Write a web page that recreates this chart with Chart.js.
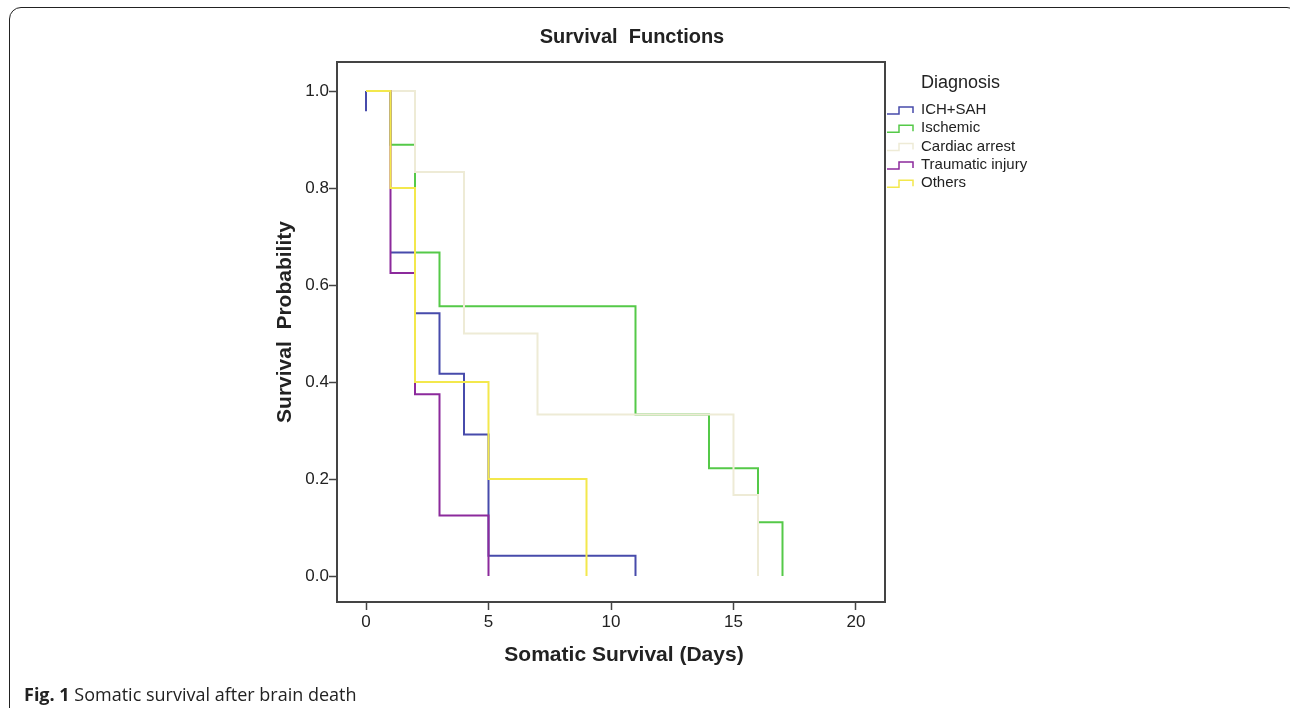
<!DOCTYPE html>
<html>
<head>
<meta charset="utf-8">
<script src="https://cdn.jsdelivr.net/npm/chart.js@4.4.1/dist/chart.umd.min.js"></script>
<style>
  html, body { margin: 0; padding: 0; background: #fff; overflow: hidden; }
  body { width: 1290px; height: 708px; position: relative; }
  #frame {
    position: absolute; left: 9px; top: 7px; width: 1290px; height: 740px;
    border: 1.5px solid #222; border-radius: 12px; box-sizing: border-box;
  }
  #chart { position: absolute; left: 0; top: 0; }
  #caption {
    position: absolute; left: 24px; top: 682px;
    font-family: 'Open Sans', sans-serif; font-size: 18px; color: #222;
    white-space: nowrap;
  }
  #caption b { font-weight: 700; }
</style>
</head>
<body>
<div id="frame"></div>
<canvas id="chart" width="1290" height="708"></canvas>
<div id="caption"><b>Fig. 1</b> Somatic survival after brain death</div>

<script>
// ----------------------------------------------------
// Data (Kaplan-Meier steps: time of event, survival after it)
// ----------------------------------------------------
const categories = ['ICH+SAH', 'Ischemic', 'Cardiac arrest', 'Traumatic injury', 'Others'];
const colors = ['#474bab', '#55c948', '#eeebd6', '#8c2a9c', '#f3e84c'];

// ICH+SAH: the null breaks the line, the plot shows no segment at 0.958 between day 0 and 1
const ichTimes = [0, 0, 0.5, 1, 2, 3, 4, 5, 11];
const ichSurv = [1.0, 0.958, null, 0.667, 0.542, 0.417, 0.292, 0.042, 0.0];

const ischTimes = [0, 1, 2, 3, 11, 14, 16, 17];
const ischSurv = [1.0, 0.889, 0.667, 0.556, 0.333, 0.222, 0.111, 0.0];

const cardTimes = [0, 2, 4, 7, 15, 16];
const cardSurv = [1.0, 0.833, 0.5, 0.333, 0.167, 0.0];

const traumaTimes = [0, 1, 2, 3, 5];
const traumaSurv = [1.0, 0.625, 0.375, 0.125, 0.0];

const otherTimes = [0, 1, 2, 5, 9];
const otherSurv = [1.0, 0.8, 0.4, 0.2, 0.0];

const xTicks = [0, 5, 10, 15, 20];
const yTicks = [0.0, 0.2, 0.4, 0.6, 0.8, 1.0];

const allTimes = [ichTimes, ischTimes, cardTimes, traumaTimes, otherTimes];
const allSurv = [ichSurv, ischSurv, cardSurv, traumaSurv, otherSurv];

const FONT = "'Liberation Sans', Arial, sans-serif";
const INK = '#222';

// ----------------------------------------------------
// Titles, frame and SPSS-style legend
// ----------------------------------------------------
const decorations = {
    id: 'decorations',
    afterDraw(chart) {
        const c = chart.ctx;
        const a = chart.chartArea;
        c.save();

        // plot frame
        c.strokeStyle = '#444';
        c.lineWidth = 2;
        c.strokeRect(a.left, a.top, a.right - a.left, a.bottom - a.top);

        c.fillStyle = INK;
        c.textAlign = 'center';
        c.textBaseline = 'middle';

        c.font = 'bold 20px ' + FONT;
        c.fillText('Survival  Functions', 632, 37);

        c.font = 'bold 21px ' + FONT;
        c.fillText('Somatic Survival (Days)', 624, 655);

        c.save();
        c.translate(285, 322);
        c.rotate(-Math.PI / 2);
        c.fillText('Survival  Probability', 0, 0);
        c.restore();

        // legend
        c.textAlign = 'left';
        c.font = '18px ' + FONT;
        c.fillText('Diagnosis', 921, 83);

        c.font = '15px ' + FONT;
        categories.forEach((name, i) => {
            const y = 110 + i * 18.3;
            c.strokeStyle = colors[i];
            c.lineWidth = 1.5;
            c.beginPath();
            c.moveTo(887, y + 4);
            c.lineTo(899, y + 4);
            c.lineTo(899, y - 3);
            c.lineTo(913, y - 3);
            c.lineTo(913, y + 3);
            c.stroke();
            c.fillStyle = INK;
            c.fillText(name, 921, y);
        });

        c.restore();
    }
};

// ----------------------------------------------------
// Chart
// ----------------------------------------------------
const datasets = categories.map((name, i) => ({
    label: name,
    data: allTimes[i].map((t, j) => ({ x: t, y: allSurv[i][j] })),
    borderColor: colors[i],
    borderWidth: 2,
    stepped: 'before',
    fill: false,
    pointRadius: 0,
    spanGaps: false,
    order: categories.length - i   // later groups drawn on top, as in the original
}));

new Chart(document.getElementById('chart'), {
    type: 'line',
    data: { datasets },
    options: {
        responsive: false,
        animation: false,
        layout: { padding: { left: 250, top: 62, right: 405, bottom: 66 } },
        plugins: {
            legend: { display: false },
            tooltip: { enabled: false }
        },
        scales: {
            x: {
                type: 'linear',
                min: -1.1837,
                max: 21.1837,
                afterBuildTicks: (scale) => { scale.ticks = xTicks.map(v => ({ value: v })); },
                afterFit: (scale) => { scale.height = 40; },
                grid: { drawOnChartArea: false, drawTicks: true, tickLength: 8, tickColor: '#444', tickWidth: 1.5 },
                border: { display: false },
                ticks: {
                    color: INK,
                    font: { family: FONT, size: 17 },
                    padding: 2,
                    maxRotation: 0,
                    callback: (v) => String(v)
                }
            },
            y: {
                type: 'linear',
                min: -0.0536,
                max: 1.0598,
                afterBuildTicks: (scale) => { scale.ticks = yTicks.map(v => ({ value: v })); },
                afterFit: (scale) => { scale.width = 87; },
                grid: { drawOnChartArea: false, drawTicks: true, tickLength: 8, tickColor: '#444', tickWidth: 1.5 },
                border: { display: false },
                ticks: {
                    color: INK,
                    font: { family: FONT, size: 17 },
                    padding: 0,
                    callback: (v) => v.toFixed(1)
                }
            }
        }
    },
    plugins: [decorations]
});
</script>
</body>
</html>
